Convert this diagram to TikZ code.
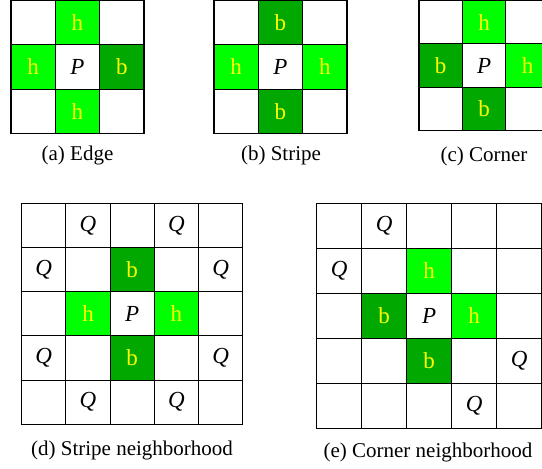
\documentclass[tikz,border=0pt]{standalone}
\usepackage{fontspec}
\setmainfont{Liberation Serif}
\usepackage{xcolor}
\definecolor{lightgrn}{RGB}{0, 255, 0}
\definecolor{darkgrn}{RGB}{0, 168, 0}
\definecolor{lblyellow}{RGB}{255, 255, 0}
\usepackage{tikz}
\usetikzlibrary{positioning}
% empty n x n grid of cells named <name>-<row>-<col>
\newcommand{\cellgrid}[5]{%
  \foreach \r in {1,...,#5}{
    \foreach \c in {1,...,#5}{
      \node[cell] (#1-\r-\c) at ({#2+(\c-0.5)*#4},{#3+(\r-0.5)*#4}) {};
    }
  }%
}
% grid lines over the cells
\newcommand{\gridlines}[4]{%
  \foreach \k in {0,...,#4}{
    \draw[gridline] ({#1+\k*#3},#2) -- ({#1+\k*#3},{#2+#4*#3});
    \draw[gridline] (#1,{#2+\k*#3}) -- ({#1+#4*#3},{#2+\k*#3});
  }%
}

\begin{document}
\begin{tikzpicture}[x=0.5pt, y=-0.5pt,
        cell/.style={rectangle, inner sep=0pt, font=\fontsize{11.5}{13}\selectfont},
        hcell/.style={cell, fill=lightgrn, text=lblyellow},
        bcell/.style={cell, fill=darkgrn, text=lblyellow},
        gridline/.style={draw=black, line width=0.55pt, line cap=rect},
        caption/.style={inner sep=0pt, font=\fontsize{10.5}{12}\selectfont}]
    \useasboundingbox (0,0) rectangle (542,468);

    % (a) Edge
    \begin{scope}[every node/.append style={minimum size=22.17pt}]
        \cellgrid{a}{11}{0.5}{44.33}{3}
        \node [hcell] at (a-1-2) {h};
        \node [hcell] at (a-2-1) {h};
        \node [bcell] at (a-2-3) {b};
        \node [hcell] at (a-3-2) {h};
        \node [cell] at (a-2-2) {\textit{P}};
        \gridlines{11}{0.5}{44.33}{3}
    \end{scope}
    \node [caption] (capa) at (77.5,155) {(a) Edge};

    % (b) Stripe
    \begin{scope}[every node/.append style={minimum size=22.17pt}]
        \cellgrid{b}{214}{0.5}{44.33}{3}
        \node [bcell] at (b-1-2) {b};
        \node [hcell] at (b-2-1) {h};
        \node [hcell] at (b-2-3) {h};
        \node [bcell] at (b-3-2) {b};
        \node [cell] at (b-2-2) {\textit{P}};
        \gridlines{214}{0.5}{44.33}{3}
    \end{scope}
    \node [caption] (capb) at (281,155) {(b) Stripe};

    % (c) Corner
    \begin{scope}[every node/.append style={minimum size=21.7pt}]
        \cellgrid{c}{419}{0.5}{43.4}{3}
        \node [hcell] at (c-1-2) {h};
        \node [bcell] at (c-2-1) {b};
        \node [hcell] at (c-2-3) {h};
        \node [bcell] at (c-3-2) {b};
        \node [cell] at (c-2-2) {\textit{P}};
        \gridlines{419}{0.5}{43.4}{3}
    \end{scope}
    \node [caption] (capc) at (484,156) {(c) Corner};

    % (d) Stripe neighborhood
    \begin{scope}[every node/.append style={minimum size=22.1pt}]
        \cellgrid{d}{21.7}{203.3}{44.2}{5}
        \node [bcell] at (d-2-3) {b};
        \node [hcell] at (d-3-2) {h};
        \node [hcell] at (d-3-4) {h};
        \node [bcell] at (d-4-3) {b};
        \node [cell] at (d-3-3) {\textit{P}};
        \foreach \q in {1-2, 1-4, 2-1, 2-5, 4-1, 4-5, 5-2, 5-4}
            \node [cell] at (d-\q) {\textit{Q}};
        \gridlines{21.7}{203.3}{44.2}{5}
    \end{scope}
    \node [caption] (capd) at (132,450) {(d) Stripe neighborhood};

    % (e) Corner neighborhood
    \begin{scope}[every node/.append style={minimum size=22.5pt}]
        \cellgrid{e}{316.7}{203.3}{45}{5}
        \node [hcell] at (e-2-3) {h};
        \node [bcell] at (e-3-2) {b};
        \node [hcell] at (e-3-4) {h};
        \node [bcell] at (e-4-3) {b};
        \node [cell] at (e-3-3) {\textit{P}};
        \foreach \q in {1-2, 2-1, 4-5, 5-4}
            \node [cell] at (e-\q) {\textit{Q}};
        \gridlines{316.7}{203.3}{45}{5}
    \end{scope}
    \node [caption] (cape) at (428,452) {(e) Corner neighborhood};
\end{tikzpicture}
\end{document}
